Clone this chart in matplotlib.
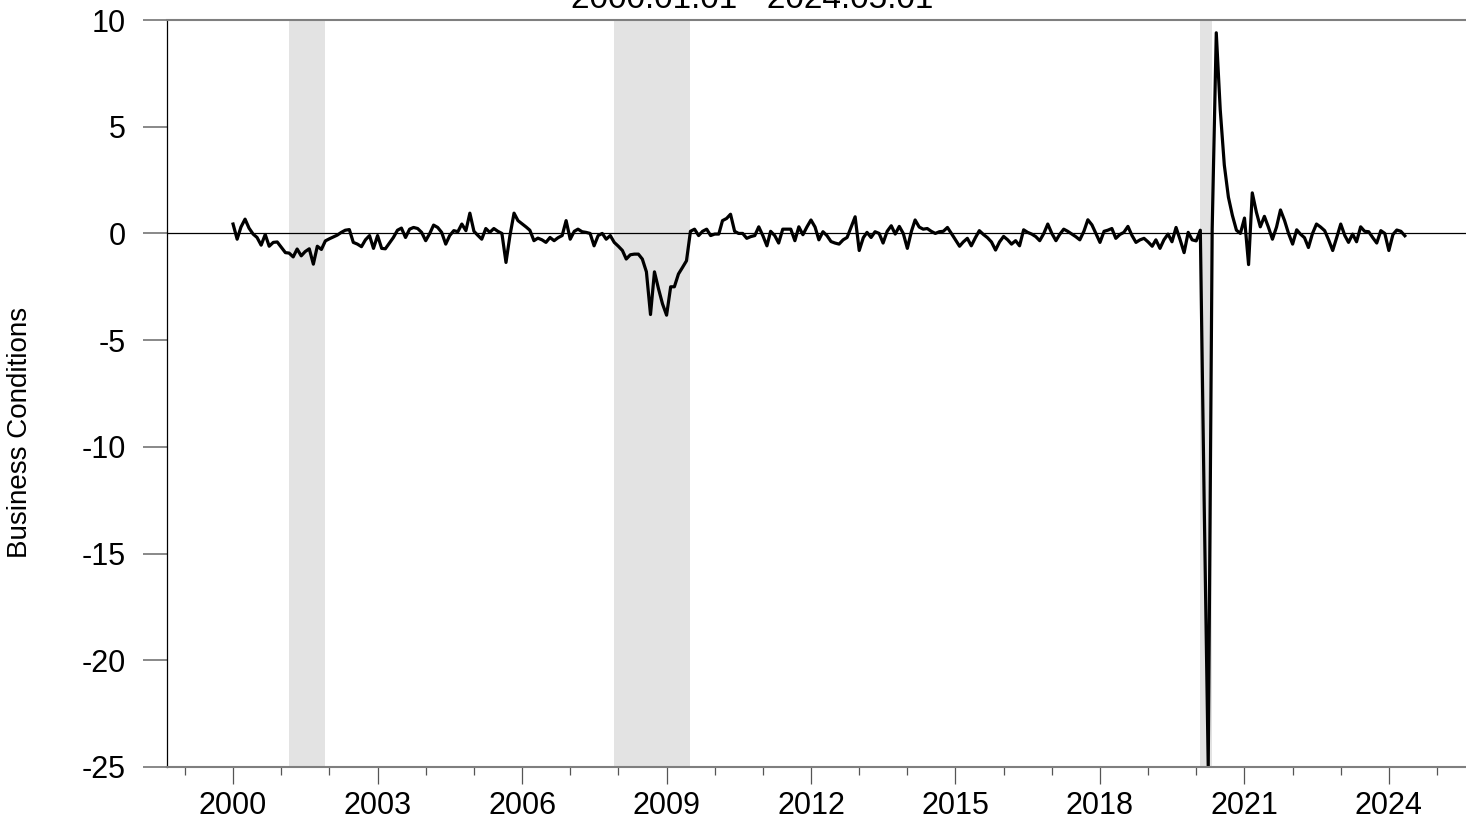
import datetime as dt

import matplotlib
matplotlib.use("Agg")
import matplotlib.dates as mdates
import matplotlib.pyplot as plt
import pandas as pd

plt.rcParams["font.family"] = ["Liberation Sans", "DejaVu Sans"]

start_date = "2000-01-01"
title_text = "2000.01.01 - 2024.05.01"
y_label = "Business Conditions"

# monthly values, one row per year
values_by_year = [
    [0.44, -0.27, 0.30, 0.67, 0.25, -0.03, -0.19, -0.55, -0.05, -0.60, -0.42, -0.40],  # 2000
    [-0.65, -0.90, -0.92, -1.10, -0.73, -1.05, -0.85, -0.72, -1.44, -0.60, -0.75, -0.35],
    [-0.25, -0.16, -0.08, 0.05, 0.15, 0.18, -0.42, -0.50, -0.62, -0.30, -0.10, -0.70],
    [-0.10, -0.70, -0.72, -0.45, -0.19, 0.15, 0.25, -0.19, 0.20, 0.28, 0.23, 0.05],
    [-0.34, 0.00, 0.39, 0.28, 0.05, -0.50, -0.10, 0.13, 0.08, 0.44, 0.13, 0.95],
    [0.10, -0.10, -0.27, 0.23, 0.05, 0.23, 0.10, 0.00, -1.36, -0.10, 0.95, 0.60],  # 2005
    [0.45, 0.30, 0.15, -0.34, -0.22, -0.30, -0.42, -0.19, -0.34, -0.20, -0.10, 0.60],
    [-0.27, 0.10, 0.20, 0.08, 0.05, 0.00, -0.58, -0.10, 0.00, -0.27, -0.10, -0.42],
    [-0.60, -0.80, -1.20, -1.00, -0.97, -0.97, -1.20, -1.80, -3.80, -1.80, -2.60, -3.30],
    [-3.83, -2.50, -2.50, -1.90, -1.60, -1.28, 0.10, 0.20, -0.10, 0.10, 0.20, -0.10],
    [-0.03, -0.03, 0.60, 0.70, 0.90, 0.10, 0.00, 0.00, -0.23, -0.15, -0.10, 0.31],  # 2010
    [-0.10, -0.58, 0.10, -0.10, -0.45, 0.20, 0.20, 0.20, -0.34, 0.31, -0.06, 0.30],
    [0.63, 0.30, -0.30, 0.08, -0.10, -0.38, -0.45, -0.50, -0.30, -0.19, 0.30, 0.78],
    [-0.80, -0.20, 0.05, -0.19, 0.08, 0.00, -0.45, 0.10, 0.36, -0.03, 0.33, 0.00],
    [-0.70, 0.10, 0.63, 0.30, 0.20, 0.23, 0.10, 0.00, 0.08, 0.10, 0.28, 0.00],
    [-0.30, -0.60, -0.40, -0.23, -0.58, -0.20, 0.13, -0.05, -0.20, -0.40, -0.78, -0.40],  # 2015
    [-0.14, -0.30, -0.50, -0.34, -0.58, 0.17, 0.05, -0.03, -0.15, -0.34, 0.00, 0.44],
    [0.00, -0.34, -0.05, 0.20, 0.10, -0.03, -0.15, -0.30, 0.10, 0.64, 0.40, 0.00],
    [-0.42, 0.10, 0.15, 0.23, -0.23, -0.05, 0.05, 0.33, -0.10, -0.42, -0.30, -0.23],
    [-0.40, -0.60, -0.30, -0.70, -0.30, -0.03, -0.39, 0.28, -0.30, -0.90, 0.05, -0.30],
    [-0.35, 0.15, -12.50, -25.00, 0.20, 9.40, 5.80, 3.20, 1.70, 0.85, 0.15, 0.00],  # 2020
    [0.72, -1.46, 1.90, 1.00, 0.31, 0.80, 0.30, -0.27, 0.30, 1.10, 0.60, 0.00],
    [-0.50, 0.17, -0.03, -0.20, -0.66, 0.00, 0.44, 0.30, 0.13, -0.30, -0.80, -0.20],
    [0.44, -0.10, -0.42, -0.03, -0.39, 0.31, 0.10, 0.08, -0.20, -0.45, 0.13, 0.00],
    [-0.80, -0.05, 0.16, 0.10, -0.11],  # 2024
]

recession_starts = ["2001-03-01", "2007-12-01", "2020-02-01"]
recession_ends = ["2001-12-01", "2009-07-01", "2020-05-01"]

y_ticks = [10, 5, 0, -5, -10, -15, -20, -25]
x_label_years = [2000, 2003, 2006, 2009, 2012, 2015, 2018, 2021, 2024]
x_minor_years = list(range(1999, 2026))

values = [v for year in values_by_year for v in year]
dates = pd.date_range(start_date, periods=len(values), freq="MS")

fig = plt.figure(figsize=(14.66, 8.19), dpi=100)
ax = fig.add_axes([167 / 1466, 1 - 767 / 819, 1 - 167 / 1466, (767 - 20) / 819])

for s, e in zip(recession_starts, recession_ends):
    ax.axvspan(pd.Timestamp(s), pd.Timestamp(e), color="#e3e3e3", lw=0, zorder=0)

ax.axhline(0, color="black", lw=0.9, zorder=1)
ax.plot(dates, values, color="black", lw=2.3, zorder=2)

ax.set_ylim(-25, 10)
ax.set_yticks(y_ticks)
ax.set_yticklabels([str(t) for t in y_ticks])
ax.set_xlim(dt.datetime(1998, 8, 18), dt.datetime(2025, 8, 8))
ax.set_xticks([dt.datetime(y, 1, 1) for y in x_label_years])
ax.set_xticks([dt.datetime(y, 1, 1) for y in x_minor_years], minor=True)
ax.xaxis.set_major_formatter(mdates.DateFormatter("%Y"))

ax.tick_params(axis="y", direction="out", length=17.5, width=1.3, color="#7f7f7f",
               labelsize=22, pad=12)
ax.tick_params(axis="x", which="major", direction="out", length=12, width=0.9,
               color="#555555", labelsize=22, pad=5)
ax.tick_params(axis="x", which="minor", direction="out", length=6, width=0.9, color="#555555")

ax.spines["right"].set_visible(False)
ax.spines["left"].set_color("black")
ax.spines["left"].set_linewidth(0.9)
for side in ("top", "bottom"):
    ax.spines[side].set_color("#7f7f7f")
    ax.spines[side].set_linewidth(1.5)

fig.text(20 / 1466, 1 - 432 / 819, y_label, rotation=90, ha="center", va="center", fontsize=20)
fig.text(752 / 1466, 1 - 8 / 819, title_text, ha="center", va="baseline", fontsize=24)

fig.savefig("out.png", dpi=100)
